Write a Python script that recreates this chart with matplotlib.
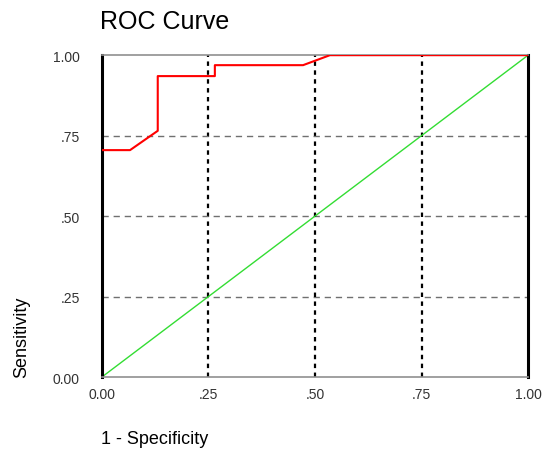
import matplotlib.pyplot as plt

plt.rcParams['font.family'] = ['Liberation Sans', 'DejaVu Sans']

# ROC curve
fpr = [0.0, 0.066, 0.131, 0.131, 0.265, 0.265, 0.472, 0.535, 1.0]
tpr = [0.705, 0.705, 0.765, 0.935, 0.935, 0.969, 0.969, 1.0, 1.0]
ref_line = [0.0, 1.0]
ticks = [0.0, 0.25, 0.5, 0.75, 1.0]
tick_labels = ['0.00', '.25', '.50', '.75', '1.00']

fig = plt.figure(figsize=(5.45, 4.52), dpi=100)
ax = fig.add_axes([0.187, 0.1637, 0.782, 0.712])

# grid lines
for t in ticks[1:-1]:
    ax.axhline(t, color='#707070', linestyle=(0, (4.5, 3.5)), linewidth=1, zorder=1)
    ax.axvline(t, color='black', linestyle=(0, (2, 2)), linewidth=1.6, zorder=1)

ax.plot(ref_line, ref_line, color='#33dd33', linewidth=1, zorder=2)
ax.plot(fpr, tpr, color='red', linewidth=1.5, zorder=3)

ax.set_xlim(0, 1)
ax.set_ylim(0, 1)
ax.set_xticks(ticks)
ax.set_xticklabels(tick_labels)
ax.set_yticks(ticks)
ax.set_yticklabels(tick_labels)
ax.tick_params(axis='x', length=0, pad=7, labelsize=10, colors='#333333')
ax.tick_params(axis='y', length=0, pad=16, labelsize=10, colors='#333333')

ax.spines['left'].set_linewidth(2.2)
ax.spines['right'].set_linewidth(2.2)
ax.spines['left'].set_color('black')
ax.spines['right'].set_color('black')
ax.spines['top'].set_color('#909090')
ax.spines['bottom'].set_color('#909090')
ax.spines['top'].set_linewidth(1.2)
ax.spines['bottom'].set_linewidth(1.2)

fig.text(0.183, 0.951, 'ROC Curve', fontsize=18, ha='left', va='center')
fig.text(0.185, 0.027, '1 - Specificity', fontsize=13, ha='left', va='center')
fig.text(0.04, 0.163, 'Sensitivity', fontsize=13, rotation=90, ha='center', va='bottom')

fig.savefig('out.png', dpi=100)
